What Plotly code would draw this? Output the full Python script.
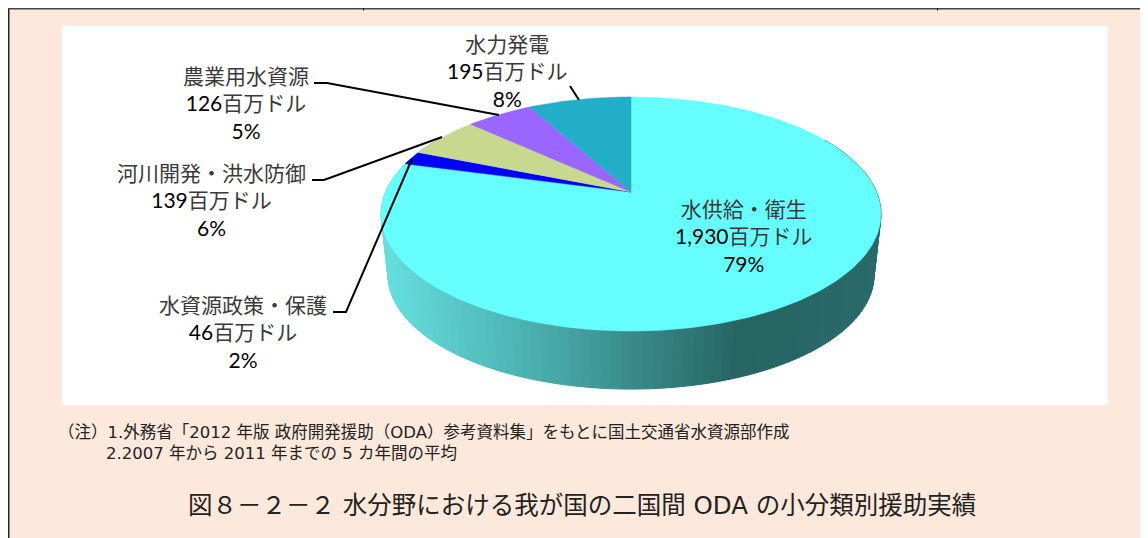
import math
import plotly.graph_objects as go

# ---- data ----
categories = ["水供給・衛生", "水資源政策・保護", "河川開発・洪水防御", "農業用水資源", "水力発電"]
values = [1930, 46, 139, 126, 195]
value_labels = ["1,930", "46", "139", "126", "195"]
percent_labels = ["79%", "2%", "6%", "5%", "8%"]
unit = "百万ドル"
note_lines = [
    "（注）1.外務省「2012 年版 政府開発援助（ODA）参考資料集」をもとに国土交通省水資源部作成",
    "2.2007 年から 2011 年までの 5 カ年間の平均",
]
title_text = "図８－２－２ 水分野における我が国の二国間 ODA の小分類別援助実績"

# ---- styling / layout (separate from data) ----
W, H = 1148, 538
OFF = 8  # the page body keeps its default 8 px margin
slice_colors = ["#66FFFF", "#0000FF", "#C8D88F", "#9966FF", "#21AEC6"]
label_pos = [(744, 235.5), (243, 332), (211, 199.5), (246, 103), (507, 71)]
leaders = [
    [(333, 312), (346, 312), (412, 159)],
    [(312, 180), (324, 180), (442, 137)],
    [(314, 83), (327, 83), (499, 115)],
    [(570, 86), (579, 100)],
]
LABEL_FONT = "Lato, Noto Sans CJK JP, sans-serif"
NOTE_FONT = "DejaVu Sans, Noto Sans CJK JP, sans-serif"

# perspective projection of the pie disc
CX, K = 631.0, 0.188
TOP = dict(y0=192.0, a=245.5, b=112.9)
BOT = dict(y0=254.0, a=238.6, b=109.7)


def project(theta, p):
    """theta: clockwise from 12 o'clock, in radians."""
    u, v = math.sin(theta), -math.cos(theta)
    w = 1 - K * v
    return CX + p["a"] * u / w, p["y0"] + p["b"] * v / w


def wall_color(x):
    stops = [(385, (101, 222, 222)), (560, (70, 165, 165)), (740, (39, 100, 100)), (880, (42, 106, 106))]
    if x <= stops[0][0]:
        c = stops[0][1]
    elif x >= stops[-1][0]:
        c = stops[-1][1]
    else:
        for (x0, c0), (x1, c1) in zip(stops, stops[1:]):
            if x0 <= x <= x1:
                t = (x - x0) / (x1 - x0)
                c = tuple(c0[i] + (c1[i] - c0[i]) * t for i in range(3))
                break
    return "rgb(%d,%d,%d)" % tuple(round(v) for v in c)


fig = go.Figure()

# side wall
step = math.radians(2)
th = math.radians(60)
while th < math.radians(300):
    t2 = th + step
    a = project(th, TOP)
    b = project(t2, TOP)
    c = project(t2, BOT)
    d = project(th, BOT)
    col = wall_color((a[0] + b[0]) / 2)
    fig.add_trace(go.Scatter(
        x=[a[0], b[0], c[0], d[0], a[0]], y=[a[1], b[1], c[1], d[1], a[1]],
        mode="lines", fill="toself", fillcolor=col, line=dict(color=col, width=1),
        hoverinfo="skip", showlegend=False))
    th = t2

# top face, one wedge per value, clockwise from 12 o'clock
total = sum(values)
start = 0.0
for name, val, col in zip(categories, values, slice_colors):
    sweep = 2 * math.pi * val / total
    n = max(4, int(math.degrees(sweep)))
    pts = [project(start + sweep * i / n, TOP) for i in range(n + 1)]
    xs = [CX] + [p[0] for p in pts] + [CX]
    ys = [TOP["y0"]] + [p[1] for p in pts] + [TOP["y0"]]
    fig.add_trace(go.Scatter(
        x=xs, y=ys, mode="lines", fill="toself", fillcolor=col, line=dict(color=col, width=0.5),
        hoverinfo="skip", showlegend=False, name=name))
    start += sweep

# leader lines
for seg in leaders:
    fig.add_trace(go.Scatter(
        x=[p[0] for p in seg], y=[p[1] for p in seg], mode="lines",
        line=dict(color="#000000", width=2), hoverinfo="skip", showlegend=False))

CJK_COL = "#3a3a3a"
annotations = []
for name, val, pct, (lx, ly) in zip(categories, value_labels, percent_labels, label_pos):
    annotations.append(dict(
        x=lx, y=ly, xref="x", yref="y", showarrow=False, align="center",
        xanchor="center", yanchor="middle",
        text=f"<span style='color:{CJK_COL}'>{name}</span><br>{val}<span style='color:{CJK_COL}'>{unit}</span><br>{pct}",
        font=dict(family=LABEL_FONT, size=21, color="#000000")))
annotations.append(dict(x=56, y=432, xref="x", yref="y", showarrow=False, xanchor="left", yanchor="middle",
                        text=note_lines[0], font=dict(family=NOTE_FONT, size=16.5, color="#222222")))
annotations.append(dict(x=104, y=453, xref="x", yref="y", showarrow=False, xanchor="left", yanchor="middle",
                        text=note_lines[1], font=dict(family=NOTE_FONT, size=16.5, color="#222222")))
annotations.append(dict(x=185.5, y=505, xref="x", yref="y", showarrow=False, xanchor="left", yanchor="middle",
                        text=title_text, font=dict(family=NOTE_FONT, size=24.5, color="#222222")))

shapes = [
    dict(type="rect", xref="x", yref="y", x0=9, y0=9, x1=W, y1=H, fillcolor="#FCE9DB", line_width=0, layer="below"),
    dict(type="rect", xref="x", yref="y", x0=62, y0=26, x1=1108, y1=405, fillcolor="#FFFFFF", line_width=0, layer="below"),
    dict(type="rect", xref="x", yref="y", x0=8, y0=8, x1=9.5, y1=H, fillcolor="#222222", line_width=0, layer="below"),
    dict(type="rect", xref="x", yref="y", x0=8, y0=8, x1=W, y1=9.5, fillcolor="#444444", line_width=0, layer="below"),
    dict(type="rect", xref="x", yref="y", x0=363, y0=8, x1=364, y1=10.5, fillcolor="#111111", line_width=0, layer="below"),
    dict(type="rect", xref="x", yref="y", x0=937, y0=8, x1=938, y1=10.5, fillcolor="#111111", line_width=0, layer="below"),
]

fig.update_layout(
    width=W - OFF, height=H - OFF, autosize=False,
    margin=dict(l=0, r=0, t=0, b=0, pad=0),
    paper_bgcolor="#FFFFFF", plot_bgcolor="rgba(0,0,0,0)",
    showlegend=False, hovermode=False,
    xaxis=dict(range=[OFF, W], visible=False, fixedrange=True),
    yaxis=dict(range=[H, OFF], visible=False, fixedrange=True),
    shapes=shapes, annotations=annotations,
)
fig.write_html("out.html", config={"displayModeBar": False})
